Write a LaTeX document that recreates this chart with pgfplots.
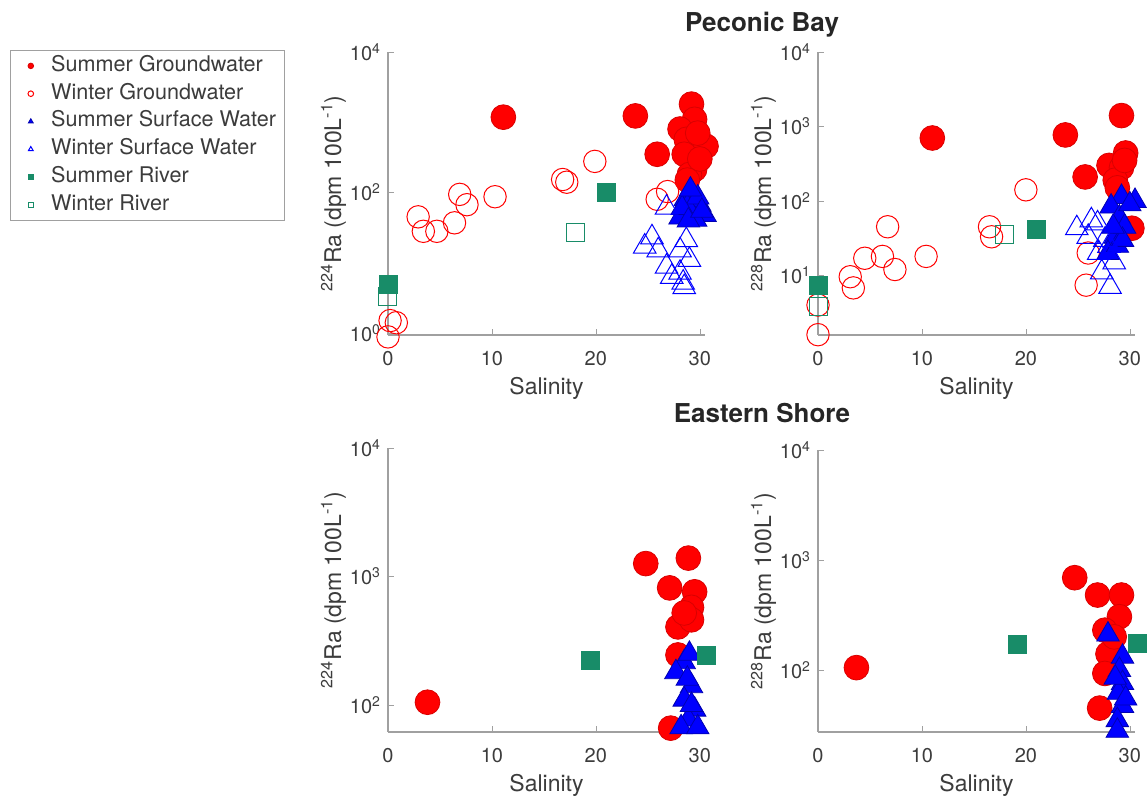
\documentclass[border=0pt]{standalone}
\usepackage{fontspec}
\setmainfont{TeX Gyre Heros}
\usepackage{pgfplots}
\pgfplotsset{compat=1.18}
\definecolor{mgreen}{RGB}{24,140,104}
\definecolor{axgray}{RGB}{160,160,160}
\definecolor{txtgray}{RGB}{60,60,60}
\tikzset{
 sgw/.style={only marks, color=red, mark=*, mark size=6.2pt, mark options={fill=red, draw=red!85!black, line width=0.4pt}},
 wgw/.style={only marks, color=red, mark=o, mark size=5.6pt, mark options={draw=red, line width=0.5pt}},
 ssw/.style={only marks, color=blue, mark=triangle*, mark size=6.5pt, mark options={fill=blue, draw=blue!70!black, line width=0.4pt}},
 wsw/.style={only marks, color=blue, mark=triangle, mark size=6.5pt, mark options={draw=blue, line width=0.5pt}},
 sr/.style={only marks, color=mgreen, mark=square*, mark size=4.5pt, mark options={fill=mgreen, draw=mgreen}},
 wr/.style={only marks, color=mgreen, mark=square, mark size=4.5pt, mark options={draw=mgreen, line width=0.5pt}},
}
\pgfplotsset{
 panel/.style={scale only axis, width=158.5pt, xmin=0, xmax=30.5,
   axis x line*=bottom, axis y line*=left, axis line style={-,axgray,line width=0.6pt},
   xtick={0,10,20,30}, xticklabels={0,10,20,30}, tick style={axgray}, tick align=inside, major tick length=3pt,
   yminorticks=false,
   ticklabel style={font=\fontsize{10}{12}\selectfont, text=txtgray},
   xticklabel style={yshift=-4.5pt},
   label style={font=\fontsize{11.5}{13}\selectfont, text=txtgray},
   xlabel style={yshift=1pt},
   ylabel shift=-5pt,
   xlabel={Salinity}, clip=false},
}
\begin{document}
\begin{tikzpicture}
\useasboundingbox (0,0) rectangle (573.5pt,398pt);
\node[font=\bfseries\fontsize{13}{15}\selectfont, text=black!85] at (381pt,385.5pt) {Peconic Bay};
\node[font=\bfseries\fontsize{13}{15}\selectfont, text=black!85] at (381pt,191.5pt) {Eastern Shore};

% Panel 1: Peconic Bay 224Ra
\begin{axis}[ymode=log, panel, at={(194pt,230.5pt)}, anchor=south west, height=141.5pt,
  ymin=0.936, ymax=10000, ytick={1,100,10000},
  yticklabels={10\textsuperscript{0},10\textsuperscript{2},10\textsuperscript{4}},
  ylabel={\textsuperscript{224}Ra (dpm 100L\textsuperscript{-1})},
  legend style={at={(axis description cs:-1.1924,1.007)}, anchor=north west, draw=axgray,
    font=\fontsize{10.8}{12}\selectfont, text=txtgray, inner xsep=2pt, inner ysep=2pt, row sep=2.4pt,
    nodes={inner ysep=0.5pt, inner xsep=2pt, text height=8pt, text depth=2.5pt}},
  legend cell align=left,
  legend image code/.code={\path (0pt,0pt) (16pt,0pt); \draw[#1, mark size=1.4pt] plot coordinates {(8pt,0pt)};}]
\addplot[sgw] coordinates {(11.1,1180)(23.8,1230)(25.9,350)(29.2,1810)(29.5,1100)(28.1,800)(28.7,570)(30.6,455)(29.3,270)(29.5,213)(28.5,350)(29.8,700)(29,180)(30,300)(28.8,150)};
\addlegendentry{Summer Groundwater}
\addplot[wgw] coordinates {(2.9,45)(3.4,28)(4.7,28)(6.4,37)(6.9,94)(7.6,67)(10.3,87)(16.8,153)(17.2,140)(19.9,277)(25.9,80)(26.9,103)(0.2,1.5)(0.8,1.4)(0,0.88)};
\addlegendentry{Winter Groundwater}
\addplot[ssw] coordinates {(28.6,80)(29.3,94)(30,67)(29,48)(30.5,48)(28.1,44)(29.6,41)(28.8,63)(29.8,85)(28.3,60)(29.1,110)(28.9,40)(30.2,55)};
\addlegendentry{Summer Surface Water}
\addplot[wsw] coordinates {(26.8,61)(25.4,23)(24.7,17)(26,15)(28.1,15)(26.8,8.8)(28.1,7.2)(28.4,5.2)(29,11)(28.7,21)(28.5,4.5)(27.3,6.3)};
\addlegendentry{Winter Surface Water}
\addplot[sr] coordinates {(21,100)(0,4.9)};
\addlegendentry{Summer River}
\addplot[wr] coordinates {(18,27)(0,3.3)};
\addlegendentry{Winter River}
\end{axis}

% Panel 2: Peconic Bay 228Ra
\begin{axis}[ymode=log, panel, at={(409pt,230.5pt)}, anchor=south west, height=141.5pt,
  ymin=1.585, ymax=10000, ytick={10,100,1000,10000},
  yticklabels={10\textsuperscript{1},10\textsuperscript{2},10\textsuperscript{3},10\textsuperscript{4}},
  ylabel={\textsuperscript{228}Ra (dpm 100L\textsuperscript{-1})}]
\addplot[sgw] coordinates {(11,700)(23.8,770)(25.7,210)(29.2,1400)(29.6,440)(28,300)(29.2,280)(28.6,190)(30.2,43)(29.5,350)(28.8,150)};
\addplot[wgw] coordinates {(6.7,45)(4.5,17)(6.2,18)(7.4,12)(3.1,9.6)(3.4,6.8)(10.4,18)(0,1.6)(0,4)(20,141)(16.5,45)(16.7,33)(25.8,7.4)(26,20)};
\addplot[ssw] coordinates {(29.2,113)(30.5,100)(28.2,84)(28.6,33)(27.9,20)(29,60)(29.5,45)(30,90)(28.8,25)(29.3,30)(28.4,45)};
\addplot[wsw] coordinates {(24.9,43)(26.3,55)(26.9,50)(26,33)(27.6,30)(27,20)(28.1,7)(27.3,11)(28.5,15)(28,25)};
\addplot[sr] coordinates {(0,7.4)(21,41)};
\addplot[wr] coordinates {(0,3.8)(17.9,35)};
\end{axis}

% Panel 3: Eastern Shore 224Ra
\begin{axis}[ymode=log, panel, at={(194pt,32pt)}, anchor=south west, height=142pt,
  ymin=61.6, ymax=10000, ytick={100,1000,10000},
  yticklabels={10\textsuperscript{2},10\textsuperscript{3},10\textsuperscript{4}},
  ylabel={\textsuperscript{224}Ra (dpm 100L\textsuperscript{-1})}]
\addplot[sgw] coordinates {(3.8,105)(24.8,1260)(28.9,1390)(27.1,815)(29.5,760)(29.2,575)(27.9,405)(29.2,460)(28.5,520)(27.9,245)(27.2,66)};
\addplot[ssw] coordinates {(28.5,215)(27.7,180)(29.2,140)(28.5,110)(29.5,92)(28.9,77)(28.2,67)(29.8,67)(29,250)(28.8,160)(29.2,100)};
\addplot[sr] coordinates {(19.5,224)(30.6,245)};
\end{axis}

% Panel 4: Eastern Shore 228Ra
\begin{axis}[ymode=log, panel, at={(409pt,32pt)}, anchor=south west, height=141pt,
  ymin=27.3, ymax=10000, ytick={100,1000,10000},
  yticklabels={10\textsuperscript{2},10\textsuperscript{3},10\textsuperscript{4}},
  ylabel={\textsuperscript{228}Ra (dpm 100L\textsuperscript{-1})}]
\addplot[sgw] coordinates {(3.7,105)(24.7,690)(26.9,480)(29.2,480)(29,305)(27.6,230)(27.9,140)(27.6,93)(27.1,45)(28.5,200)};
\addplot[ssw] coordinates {(27.9,210)(29.3,132)(29,100)(29.3,76)(28.9,62)(29.3,47)(28.8,35)(28.8,28)(29.6,55)(28.6,85)};
\addplot[sr] coordinates {(19.2,170)(30.7,175)};
\end{axis}
\end{tikzpicture}
\end{document}
